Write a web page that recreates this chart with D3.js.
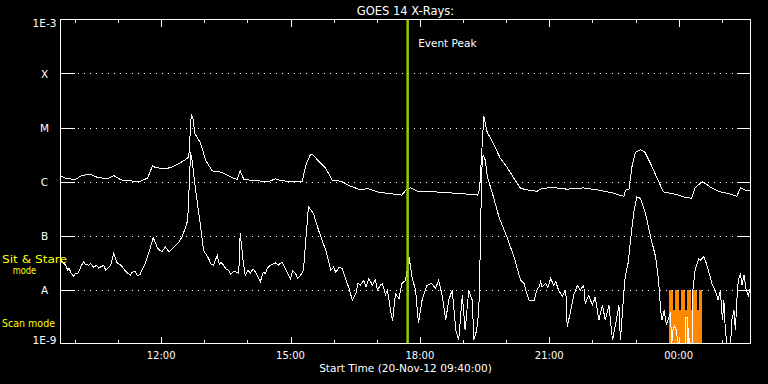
<!DOCTYPE html>
<html>
<head>
<meta charset="utf-8">
<script src="https://cdn.jsdelivr.net/npm/d3@7"></script>
<style>
  body { margin: 0; background: #000; }
  svg { display: block; }
  text { font-family: "DejaVu Sans", sans-serif; fill: #fff; }
</style>
</head>
<body>
<svg id="chart" width="768" height="384"></svg>
<script>
// time is minutes after the start time, flux in W/m^2
const startTime = Date.UTC(2012, 10, 20, 9, 40);
const spanMinutes = 960;
const title = "GOES 14 X-Rays:";
const xTitle = "Start Time (20-Nov-12 09:40:00)";
const fluxTicks = [1e-3, 1e-4, 1e-5, 1e-6, 1e-7, 1e-8, 1e-9];
const fluxLabels = ["1E-3", "X", "M", "C", "B", "A", "1E-9"];
const eventPeakMinute = 483;
const modeLabels = ["Sit & Stare", "mode", "Scan mode"];

// 1-8 A channel
const longChannel = [
  [0,1.29e-6],[7,1.14e-6],[21,1.09e-6],[30,1.31e-6],[42,1.34e-6],[51,1.20e-6],[65,1.12e-6],
  [74,1.29e-6],[83,1.09e-6],[90,1.03e-6],[111,1.01e-6],[121,1.15e-6],[128,1.94e-6],[132,1.82e-6],
  [139,1.76e-6],[148,1.74e-6],[155,1.86e-6],[165,2.15e-6],[174,2.55e-6],[178.5,2.86e-6],
  [182,1.76e-5],[184,1.55e-5],[187,7.74e-6],[195,5.06e-6],[202,2.48e-6],[211,1.57e-6],
  [223,1.49e-6],[232,1.31e-6],[241,1.14e-6],[246,1.09e-6],[250,1.57e-6],[255,1.10e-6],
  [267,1.04e-6],[290,1.00e-6],[299,1.12e-6],[308,1.03e-6],[336,9.8e-7],[342,2.15e-6],
  [348,3.2e-6],[352,3.07e-6],[359,2.38e-6],[369,1.76e-6],[378,1.06e-6],[392,1.0e-6],
  [401,8.4e-7],[415,7.2e-7],[429,7.3e-7],[443,6.3e-7],[457,6.0e-7],[475,5.6e-7],[481,7.1e-7],
  [487,7.7e-7],[498.5,6.4e-7],[515,6.5e-7],[543,6.15e-7],[570,5.8e-7],[580,5.6e-7],[583,6.9e-7],
  [589,1.62e-5],[594,7.74e-6],[598,6.6e-6],[612,2.67e-6],[621,1.86e-6],[631,1.14e-6],
  [640,7.5e-7],[649,7.0e-7],[663,6.6e-7],[670,7.5e-7],[686,7.7e-7],[705,7.2e-7],[719,7.5e-7],
  [728,7.6e-7],[749,6.9e-7],[768,6.15e-7],[784,5.3e-7],[786,6.9e-7],[791,7.3e-7],[795,1.86e-6],
  [800,3.49e-6],[807,3.9e-6],[813,3.49e-6],[821,2.15e-6],[830,1.15e-6],[839,6.4e-7],
  [856,5.8e-7],[870,5.05e-7],[878,4.9e-7],[883,7.7e-7],[893,1.0e-6],[904,7.9e-7],[916,6.5e-7],
  [930,6.0e-7],[941,5.3e-7],[946,7.7e-7],[953,6.9e-7],[960,6.85e-7]
];

// 0.5-4 A channel
const shortChannel = [
  [0,3.6e-8],[4,3.1e-8],[7,2.82e-8],[10,2.3e-8],[12,2.45e-8],[15,2.0e-8],[18,1.76e-8],
  [21,2.0e-8],[23,1.92e-8],[26,2.2e-8],[28,2.62e-8],[32,3.24e-8],[35,2.9e-8],[39,2.82e-8],
  [42,3.0e-8],[46,2.59e-8],[50,2.8e-8],[53,2.5e-8],[56,2.62e-8],[60,2.8e-8],[63,2.28e-8],
  [67,2.6e-8],[70,2.82e-8],[74,4.64e-8],[79,3.07e-8],[83,2.9e-8],[86,2.62e-8],[89,2.3e-8],
  [93,2.03e-8],[97,1.84e-8],[100,2.1e-8],[104,2.18e-8],[107,1.8e-8],[111,1.92e-8],[114,2.4e-8],
  [118,3.03e-8],[124,5.34e-8],
  [129,9.2e-8],[135,5.82e-8],[141,4.97e-8],[146,6.15e-8],[151,4.97e-8],[158,6.07e-8],[165,7.6e-8],
  [169,9.4e-8],[174,1.42e-7],[177,1.92e-7],[181,3.49e-6],[183,2.48e-6],[188,6.9e-7],[195,1.44e-7],
  [199,5.34e-8],[206,3.75e-8],[209,3.0e-8],[213,2.82e-8],[218,4.32e-8],[221,2.9e-8],[223,3.2e-8],
  [227,2.82e-8],[230,2.4e-8],[234,2.28e-8],[237,1.9e-8],
  [241,2.18e-8],[248,2.0e-8],[250,1.09e-7],[254,3.49e-8],[257,1.84e-8],[261,2.3e-8],[264,2.0e-8],
  [268,2.4e-8],[271,2.12e-8],[274,1.8e-8],
  [278,1.38e-8],[282,2.1e-8],[285,1.98e-8],[288,2.5e-8],[292,2.82e-8],[299,3.11e-8],[303,2.8e-8],
  [308,3.24e-8],[313,2.45e-8],[316,2.0e-8],[320,1.6e-8],[323,2.2e-8],
  [327,1.98e-8],[330,1.6e-8],[334,1.84e-8],[338,2.28e-8],[342,1.09e-7],[345,3.39e-7],[352,2.55e-7],[359,1.25e-7],
  [369,5.34e-8],[376,2.28e-8],[380,2.6e-8],[383,2.09e-8],[388,2.6e-8],[392,2.41e-8],[399,1.29e-8],
  [402,1.0e-8],[406,6.3e-9],[411,8.4e-9],[414,1.3e-8],
  [417,1.2e-8],[422,1.47e-8],[425,1.1e-8],[429,1.6e-8],[434,1.2e-8],[438,1.5e-8],[441,9.7e-9],
  [445,1.2e-8],[448,1.29e-8],[452,8.0e-9],[455,9.7e-9],
  [459,4.14e-9],[462,2.59e-9],[466,8.4e-9],[471,6.8e-9],[475,1.29e-8],[480,1.47e-8],[485,3.96e-8],
  [489,1.71e-8],[494,9.7e-9],[498,2.38e-9],[503,6.3e-9],[510,1.2e-8],[516,1.29e-8],[522,1.06e-8],
  [526,1.49e-8],[531,7.8e-9],[536,2.7e-9],[540,6.3e-9],[545,9.7e-9],[550,1.76e-9],[554,1.15e-9],
  [559,7.8e-9],[563,1.76e-9],[568,9.7e-9],[573,6.3e-9],[575,1.15e-9],[579,1.76e-9],[582,4.14e-9],
  [584,5.34e-8],[586,1.62e-6],[588,3.07e-6],[591,2.48e-6],[594,1.2e-6],[601,6.0e-7],[610,2.21e-7],
  [621,9.4e-8],[631,4.02e-8],[640,1.49e-8],[645,1.29e-8],[648,9.0e-9],[652,6.3e-9],[659,6.3e-9],
  [663,1.0e-8],[666,1.12e-8],[668,1.4e-8],
  [670,1.11e-8],[675,1.29e-8],[678,1.1e-8],[682,1.6e-8],[686,1.2e-8],[689,1.4e-8],[693,9.7e-9],
  [698,7.5e-9],[703,9.7e-9],
  [705,2.03e-9],[710,4.14e-9],[714,7.8e-9],[719,1.2e-8],[723,9.7e-9],[728,1.2e-8],[730,5.5e-9],
  [735,7.8e-9],[740,5.1e-9],[744,7.3e-9],[749,2.7e-9],[754,5.1e-9],[758,2.7e-9],[763,5.1e-9],
  [768,1.15e-9],[772,2.18e-9],[777,5.1e-9],[779,1.15e-9],[785,1.49e-8],[788,2.45e-8],[790,3.2e-8],
  [793,8.2e-8],[798,2.94e-7],[802,5.2e-7],[807,4.84e-7],[814,2.55e-7],[821,9.4e-8],[828,4.02e-8],
  [832,1.49e-8],[835,4.14e-9],[837,2.7e-9],[840,4.14e-9],[843,2.18e-9],[845,2.7e-9],[849,3.8e-9],
  [850,8e-10],[852,1.76e-9],[854,2.09e-9],[857,1.76e-9],[858,1.25e-9],[861,8e-10],[869,8e-10],
  [870,3.07e-9],[872,3.07e-9],[873,8e-10],[874,1.92e-9],[875,8e-10],[879,8e-10],[880,1.01e-8],
  [883,2.28e-8],[888,3.75e-8],[890,3.49e-8],[895,4.02e-8],[898,3.2e-8],[904,1.71e-8],[907,1.2e-8],
  [911,9.7e-9],[915,6.3e-9],[918,9.7e-9],[921,2.7e-9],[923,6.3e-9],[925,1.76e-9],[928,8e-10],
  [932,8e-10],[934,2.7e-9],[937,4.14e-9],[939,1.76e-9],[941,6.3e-9],[943,1.49e-8],[946,1.98e-8],
  [948,1.2e-8],[951,1.84e-8],[954,9.7e-9],[957,7.8e-9],[960,1.12e-8]
];

// scan mode flags: [start, end, top flux]
const scanMode = [
  [846, 893, 4.1e-9],
  [846, 852, 1e-8], [855, 860, 1e-8], [863, 869, 1e-8],
  [871, 877, 1e-8], [880, 885, 1e-8], [888, 893, 1e-8]
];

const svg = d3.select("#chart");
const box = { left: 60.5, right: 750.5, top: 19.5, bottom: 343.5 };
const toDate = m => new Date(startTime + m * 60000);

const x = d3.scaleUtc()
  .domain([toDate(0), toDate(spanMinutes)])
  .range([box.left, box.right]);
const y = d3.scaleLog()
  .domain([1e-9, 1e-3])
  .range([box.bottom, box.top]);

svg.append("rect").attr("width", 768).attr("height", 384).attr("fill", "#000");

svg.append("clipPath").attr("id", "plot")
  .append("rect").attr("x", box.left).attr("y", box.top)
  .attr("width", box.right - box.left).attr("height", box.bottom - box.top);

// scan mode bars
svg.append("g").attr("clip-path", "url(#plot)")
  .attr("shape-rendering", "crispEdges")
  .selectAll("rect").data(scanMode).join("rect")
  .attr("x", d => x(toDate(d[0])))
  .attr("width", d => x(toDate(d[1])) - x(toDate(d[0])))
  .attr("y", d => y(d[2]))
  .attr("height", d => box.bottom - y(d[2]))
  .attr("fill", "#ff8800");

// flux grid lines
const inner = fluxTicks.slice(1, -1);
const grid = svg.append("g").attr("stroke", "#fff").attr("stroke-width", 1)
  .attr("shape-rendering", "crispEdges");
inner.forEach(v => {
  const yy = Math.round(y(v)) + 0.5;
  grid.append("line").attr("x1", box.left).attr("x2", box.left + 14).attr("y1", yy).attr("y2", yy);
  grid.append("line").attr("x1", box.right - 14).attr("x2", box.right).attr("y1", yy).attr("y2", yy);
  grid.append("line").attr("x1", box.left + 17.5).attr("x2", box.right - 16).attr("y1", yy).attr("y2", yy)
    .attr("stroke-dasharray", "1 5");
});

// curves
const line = d3.line()
  .x(d => x(toDate(d[0])))
  .y(d => y(d[1]));
const curves = svg.append("g").attr("clip-path", "url(#plot)")
  .attr("fill", "none").attr("stroke", "#fff").attr("stroke-width", 1)
  .attr("shape-rendering", "crispEdges");
curves.append("path").attr("d", line(longChannel));
curves.append("path").attr("d", line(shortChannel));

// event peak
const ex = x(toDate(eventPeakMinute));
svg.append("line")
  .attr("x1", ex).attr("x2", ex).attr("y1", box.top).attr("y2", box.bottom)
  .attr("stroke", "#99cc00").attr("stroke-width", 2.5);
svg.append("text")
  .attr("x", ex + 10.5).attr("y", 46.7)
  .attr("font-size", 10.5)
  .text("Event Peak");

// frame
svg.append("rect")
  .attr("x", box.left).attr("y", box.top)
  .attr("width", box.right - box.left).attr("height", box.bottom - box.top)
  .attr("fill", "none").attr("stroke", "#fff").attr("stroke-width", 1)
  .attr("shape-rendering", "crispEdges");

// time ticks, hourly minor and 3-hourly major
const hours = x.ticks(d3.utcHour.every(1));
const tg = svg.append("g").attr("stroke", "#fff").attr("shape-rendering", "crispEdges");
hours.forEach(h => {
  const xx = Math.round(x(h)) + 0.5;
  const len = h.getUTCHours() % 3 === 0 ? 7 : 3.5;
  tg.append("line").attr("x1", xx).attr("x2", xx).attr("y1", box.top).attr("y2", box.top + len);
  tg.append("line").attr("x1", xx).attr("x2", xx).attr("y1", box.bottom).attr("y2", box.bottom - len);
});

const fmt = d3.utcFormat("%H:%M");
svg.append("g").selectAll("text")
  .data(x.ticks(d3.utcHour.every(3))).join("text")
  .attr("x", d => x(d)).attr("y", 359)
  .attr("text-anchor", "middle").attr("font-size", 10)
  .text(d => fmt(d));

// flux labels
svg.append("g").selectAll("text")
  .data(fluxTicks).join("text")
  .attr("x", 44.5)
  .attr("y", d => Math.min(Math.max(y(d) + 0.5, box.top + 3.7), box.bottom - 3) + 3.65)
  .attr("text-anchor", "middle").attr("font-size", 10.5)
  .text((d, i) => fluxLabels[i]);

// titles
svg.append("text")
  .attr("x", (box.left + box.right) / 2).attr("y", 15)
  .attr("text-anchor", "middle").attr("font-size", 11.5)
  .text(title);
svg.append("text")
  .attr("x", (box.left + box.right) / 2).attr("y", 371.7)
  .attr("text-anchor", "middle").attr("font-size", 10.6)
  .text(xTitle);

// instrument mode labels
const modePos = [[2, 262.7, 65], [12.7, 274.3, 23.5], [2, 327.3, 53]];
svg.append("g").selectAll("text")
  .data(modeLabels).join("text")
  .attr("x", (d, i) => modePos[i][0]).attr("y", (d, i) => modePos[i][1])
  .attr("textLength", (d, i) => modePos[i][2])
  .attr("lengthAdjust", "spacingAndGlyphs")
  .attr("font-size", 11)
  .style("fill", "#ffff00")
  .text(d => d);
</script>
</body>
</html>
